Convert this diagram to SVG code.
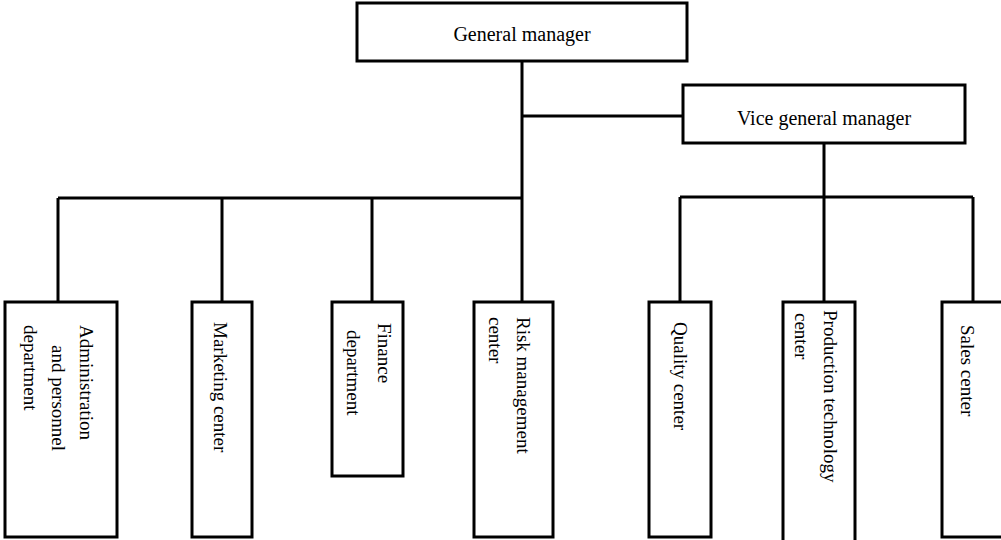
<svg xmlns="http://www.w3.org/2000/svg" width="1001" height="540" viewBox="0 0 1001 540">
<style>
.box{fill:#fff;stroke:#000;stroke-width:3}
.ln{fill:none;stroke:#000;stroke-width:3}
.t{font-family:"Liberation Serif","Times New Roman",serif;font-size:20px;fill:#000}
.v{font-family:"Liberation Serif","Times New Roman",serif;font-size:19px;fill:#000}
</style>
<rect width="1001" height="540" fill="#fff"/>
<g id="connectors">
<path class="ln" d="M522 61V302M522 116H683M58 198H522M58 198V302M222 198V302M372 198V302"/>
<path class="ln" d="M824 143V197M680 197H973M680 197V302M824 197V302M973 197V302"/>
</g>
<g id="n-gm"><rect class="box" x="357" y="3" width="330" height="58"/><text class="t" x="522" y="41" text-anchor="middle">General manager</text></g>
<g id="n-vgm"><rect class="box" x="683" y="85" width="282" height="58"/><text class="t" x="824" y="125" text-anchor="middle">Vice general manager</text></g>
<g id="n-admin"><rect class="box" x="5" y="302" width="112" height="235"/>
<text class="v" transform="translate(80,325) rotate(90)">Administration</text>
<text class="v" transform="translate(52,345) rotate(90)">and personnel</text>
<text class="v" transform="translate(24,325) rotate(90)">department</text></g>
<g id="n-mkt"><rect class="box" x="192" y="302" width="60" height="235"/>
<text class="v" transform="translate(214,322) rotate(90)">Marketing center</text></g>
<g id="n-fin"><rect class="box" x="332" y="302" width="71" height="174"/>
<text class="v" transform="translate(378,323) rotate(90)">Finance</text>
<text class="v" transform="translate(347,330) rotate(90)">department</text></g>
<g id="n-risk"><rect class="box" x="474" y="302" width="79" height="235"/>
<text class="v" transform="translate(517,317) rotate(90)">Risk management</text>
<text class="v" transform="translate(489,317) rotate(90)">center</text></g>
<g id="n-qc"><rect class="box" x="649" y="302" width="62" height="235"/>
<text class="v" transform="translate(674,322) rotate(90)">Quality center</text></g>
<g id="n-prod"><rect class="box" x="783" y="302" width="72" height="250"/>
<text class="v" transform="translate(824,310) rotate(90)">Production technology</text>
<text class="v" transform="translate(795,313) rotate(90)">center</text></g>
<g id="n-sales"><rect class="box" x="942" y="302" width="62" height="235"/>
<text class="v" transform="translate(961,325) rotate(90)">Sales center</text></g>
</svg>
